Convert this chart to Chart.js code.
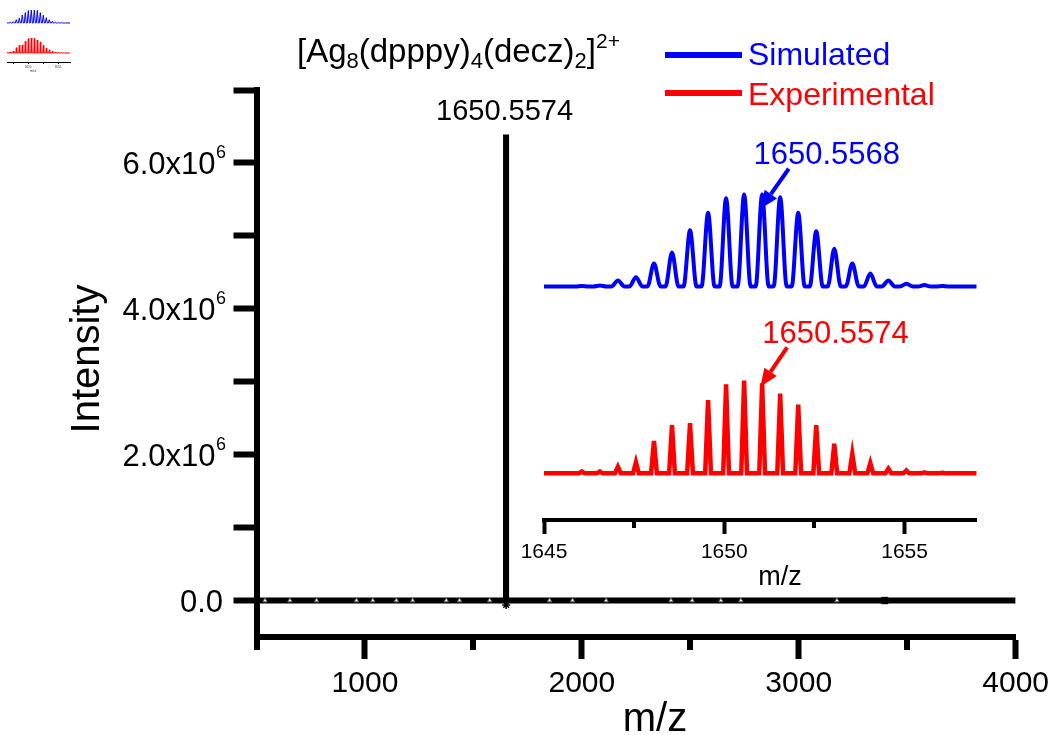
<!DOCTYPE html>
<html>
<head>
<meta charset="utf-8">
<title>ESI-MS spectrum</title>
<script src="https://cdn.jsdelivr.net/npm/chart.js@4.4.1/dist/chart.umd.min.js"></script>
<style>
  html, body { margin: 0; padding: 0; background: #fff; }
  #wrap { position: relative; width: 1056px; height: 735px; overflow: hidden; }
  #wrap canvas { position: absolute; }
  #main-chart { left: 0; top: 0; }
  #inset-chart { left: 500px; top: 100px; }
  #thumb-chart { left: 0; top: 0; }
</style>
</head>
<body>
<div id="wrap">
  <canvas id="main-chart" width="1056" height="735"></canvas>
  <canvas id="inset-chart" width="500" height="500"></canvas>
  <canvas id="thumb-chart" width="80" height="75"></canvas>
</div>
<script>
// ---- data ----

// full spectrum (m/z, intensity)
const mainMz = [500, 1650.3, 1650.5574, 1650.8, 4000];
const mainIntensity = [0, 0, 6.39e6, 0, 0];

// small peak-pick markers sitting on the baseline
const markerMz = [539, 654, 777, 961, 1036, 1145, 1220, 1375, 1436, 1575,
  1851, 1957, 2112, 2411, 2509, 2641, 2733, 3176];
const starMz = [1651];
const squareMz = [3397];

// main axis ticks
const mainXTicks = [1000, 2000, 3000, 4000];
const mainXMinor = [500, 1500, 2500, 3500];
const mainYTicks = [0, 1e6, 2e6, 3e6, 4e6, 5e6, 6e6, 7e6];
const yTickValues = [0, 2e6, 4e6, 6e6];
const yTickLabels = ["0.0", "2.0x10", "4.0x10", "6.0x10"];
const yTickExp = ["", "6", "6", "6"];

// inset isotope pattern (m/z on inset axis, relative intensity %)
const isotopeMz = [1646.05, 1646.55, 1647.05, 1647.55, 1648.05, 1648.55, 1649.05,
  1649.55, 1650.05, 1650.55, 1651.05, 1651.55, 1652.05, 1652.55, 1653.05, 1653.55,
  1654.05, 1654.55, 1655.05, 1655.55, 1656.05];
const simulated = [0.5, 1, 6.5, 10, 25, 37, 61, 80, 96, 100, 100, 97, 80, 60,
  41, 25, 14, 6.5, 3, 1.5, 0.5];
const experimental = [2, 2, 7, 12, 35, 52, 54, 79, 96, 100, 97, 86, 74, 52,
  32, 21, 11, 5, 3, 1, 0.5];
const labelledPeak = 10;
const insetXTicks = [1645, 1650, 1655];
const insetXMinor = [1647.5, 1652.5];
const thumbXTicks = [1647.5, 1650, 1652.5, 1655];

const FONT = "'Liberation Sans', Arial, sans-serif";
const BLUE = "#0000ff";
const RED = "#ff0000";

// turn stick values into a drawable profile
function profile(mz, ints, halfWidth, lo, hi) {
  const pts = [{ x: lo, y: 0 }];
  mz.forEach((m, i) => {
    pts.push({ x: m - halfWidth, y: 0 }, { x: m, y: ints[i] }, { x: m + halfWidth, y: 0 });
  });
  pts.push({ x: hi, y: 0 });
  return pts;
}

function fixedTicks(values) {
  return (scale) => {
    scale.ticks = values.map((v) => ({ value: v }));
  };
}

function drawArrow(ctx, x1, y1, x2, y2, color) {
  const ang = Math.atan2(y2 - y1, x2 - x1);
  const head = 18, half = 7.5;
  const bx = x2 - head * Math.cos(ang), by = y2 - head * Math.sin(ang);
  ctx.strokeStyle = color;
  ctx.fillStyle = color;
  ctx.lineWidth = 4;
  ctx.beginPath();
  ctx.moveTo(x1, y1);
  ctx.lineTo(bx, by);
  ctx.stroke();
  ctx.beginPath();
  ctx.moveTo(x2, y2);
  ctx.lineTo(bx + half * Math.sin(ang), by - half * Math.cos(ang));
  ctx.lineTo(bx - half * Math.sin(ang), by + half * Math.cos(ang));
  ctx.closePath();
  ctx.fill();
}

// ---- main chart ----

const mainDecor = {
  id: "mainDecor",
  afterDraw(chart) {
    const { ctx, chartArea, scales: { x, y } } = chart;
    ctx.save();

    // minor ticks on x
    ctx.strokeStyle = "#000";
    ctx.lineWidth = 6;
    mainXMinor.forEach((v) => {
      const px = Math.round(x.getPixelForValue(v));
      ctx.beginPath();
      ctx.moveTo(px, chartArea.bottom);
      ctx.lineTo(px, chartArea.bottom + 13);
      ctx.stroke();
    });

    // y tick labels with superscript
    ctx.fillStyle = "#000";
    ctx.textBaseline = "alphabetic";
    ctx.textAlign = "right";
    yTickValues.forEach((v, i) => {
      const py = y.getPixelForValue(v);
      let right = 226;
      if (yTickExp[i]) {
        ctx.font = "18px " + FONT;
        ctx.fillText(yTickExp[i], right, py - 4.5);
        right -= ctx.measureText(yTickExp[i]).width + 0.5;
      } else {
        right = 223;
      }
      ctx.font = "31px " + FONT;
      ctx.fillText(yTickLabels[i], right, py + 11);
    });

    // axis titles
    ctx.textAlign = "center";
    ctx.font = "40px " + FONT;
    ctx.fillText("m/z", 655, 731);
    ctx.save();
    ctx.translate(99, 359);
    ctx.rotate(-Math.PI / 2);
    ctx.fillText("Intensity", 0, 0);
    ctx.restore();

    // formula title
    const parts = [
      ["[Ag", 33, 0], ["8", 22, 6.6], ["(dpppy)", 33, 0], ["4", 22, 6.6],
      ["(decz)", 33, 0], ["2", 22, 6.6], ["]", 33, 0], ["2+", 21, -13.4],
    ];
    ctx.textAlign = "left";
    let tx = 297;
    parts.forEach(([t, size, dy]) => {
      ctx.font = size + "px " + FONT;
      ctx.fillText(t, tx, 61.7 + dy);
      tx += ctx.measureText(t).width;
    });

    // main peak label
    ctx.textAlign = "center";
    ctx.font = "29px " + FONT;
    ctx.fillText("1650.5574", x.getPixelForValue(mainMz[2]) - 1.5, 120);

    // legend
    [["Simulated", BLUE, 55, 65], ["Experimental", RED, 93, 105]].forEach(([t, c, ly, by]) => {
      ctx.strokeStyle = c;
      ctx.lineWidth = 6;
      ctx.beginPath();
      ctx.moveTo(665, ly);
      ctx.lineTo(742, ly);
      ctx.stroke();
      ctx.fillStyle = c;
      ctx.textAlign = "left";
      ctx.font = "32px " + FONT;
      ctx.fillText(t, 748, by);
    });
    ctx.restore();
  },
};

new Chart(document.getElementById("main-chart"), {
  type: "line",
  data: {
    datasets: [
      {
        data: mainMz.map((m, i) => ({ x: m, y: mainIntensity[i] })),
        borderColor: "#000",
        borderWidth: 6,
        borderJoinStyle: "bevel",
        pointRadius: 0,
        tension: 0,
        order: 3,
      },
      {
        type: "scatter",
        data: markerMz.map((m) => ({ x: m, y: 0 })),
        pointStyle: "triangle",
        pointRadius: 2.5,
        backgroundColor: "#fff",
        borderColor: "#666",
        borderWidth: 1,
        order: 1,
      },
      {
        type: "scatter",
        data: starMz.map((m) => ({ x: m, y: -0.06e6 })),
        pointStyle: "star",
        pointRadius: 4,
        borderColor: "#000",
        borderWidth: 1.5,
        order: 1,
      },
      {
        type: "scatter",
        data: squareMz.map((m) => ({ x: m, y: 0 })),
        pointStyle: "rect",
        pointRadius: 4.5,
        backgroundColor: "#000",
        borderColor: "#000",
        order: 1,
      },
    ],
  },
  options: {
    responsive: false,
    animation: false,
    events: [],
    layout: { padding: { top: 90, right: 39, left: 0, bottom: 0 } },
    plugins: { legend: { display: false }, tooltip: { enabled: false } },
    scales: {
      x: {
        type: "linear",
        min: 500,
        max: 4000,
        border: { display: true, color: "#000", width: 6 },
        grid: { drawOnChartArea: false, drawTicks: true, tickLength: 22, tickWidth: 6, tickColor: "#000" },
        afterBuildTicks: fixedTicks(mainXTicks),
        ticks: {
          maxRotation: 0,
          autoSkip: false,
          color: "#000",
          padding: 7,
          font: { family: FONT, size: 30 },
          callback: (v) => String(v),
        },
        afterFit: (s) => { s.height = 98; },
      },
      y: {
        type: "linear",
        min: -0.5e6,
        max: 7e6,
        border: { display: true, color: "#000", width: 6 },
        grid: { drawOnChartArea: false, drawTicks: true, tickLength: 23, tickWidth: 6, tickColor: "#000" },
        afterBuildTicks: fixedTicks(mainYTicks),
        ticks: { display: false },
        afterFit: (s) => { s.width = 256.5; },
      },
    },
  },
  plugins: [mainDecor],
});

// ---- inset ----

const insetDecor = {
  id: "insetDecor",
  afterDraw(chart) {
    const { ctx, chartArea, scales: { x, yB, yR } } = chart;
    ctx.save();
    ctx.strokeStyle = "#000";
    ctx.lineWidth = 4;
    insetXMinor.forEach((v) => {
      const px = Math.round(x.getPixelForValue(v));
      ctx.beginPath();
      ctx.moveTo(px, chartArea.bottom);
      ctx.lineTo(px, chartArea.bottom + 8);
      ctx.stroke();
    });

    ctx.fillStyle = "#000";
    ctx.textAlign = "center";
    ctx.textBaseline = "alphabetic";
    ctx.font = "27px " + FONT;
    ctx.fillText("m/z", 280, 485);

    const px = x.getPixelForValue(isotopeMz[labelledPeak]);
    const pb = yB.getPixelForValue(simulated[labelledPeak]);
    const pr = yR.getPixelForValue(experimental[labelledPeak]);

    drawArrow(ctx, px + 26.6, pb - 25.7, px - 1.7, pb + 14.3, BLUE);
    ctx.fillStyle = BLUE;
    ctx.font = "31px " + FONT;
    ctx.fillText("1650.5568", px + 64.6, pb - 30.5);

    drawArrow(ctx, px + 25, pr - 36, px - 1.7, pr + 3.4, RED);
    ctx.fillStyle = RED;
    ctx.fillText("1650.5574", px + 73.3, pr - 40.8);
    ctx.restore();
  },
};

new Chart(document.getElementById("inset-chart"), {
  type: "line",
  data: {
    datasets: [
      {
        data: profile(isotopeMz, simulated, 0.18, 1645, 1657),
        yAxisID: "yB",
        borderColor: BLUE,
        borderWidth: 4,
        pointRadius: 0,
        cubicInterpolationMode: "monotone",
      },
      {
        data: profile(isotopeMz, experimental, 0.08, 1645, 1657),
        yAxisID: "yR",
        borderColor: RED,
        borderWidth: 4.5,
        pointRadius: 0,
        tension: 0,
      },
    ],
  },
  options: {
    responsive: false,
    animation: false,
    events: [],
    layout: { padding: { top: 10, right: 23.3, left: 44, bottom: 0 } },
    plugins: { legend: { display: false }, tooltip: { enabled: false } },
    scales: {
      x: {
        type: "linear",
        min: 1645,
        max: 1657,
        border: { display: true, color: "#000", width: 4 },
        grid: { drawOnChartArea: false, drawTicks: true, tickLength: 14, tickWidth: 4, tickColor: "#000" },
        afterBuildTicks: fixedTicks(insetXTicks),
        ticks: {
          maxRotation: 0,
          autoSkip: false,
          color: "#000",
          padding: 6,
          font: { family: FONT, size: 21 },
          callback: (v) => String(v),
        },
        afterFit: (s) => { s.height = 80; },
      },
      yB: { type: "linear", display: false, min: -253.8, max: 191.8 },
      yR: { type: "linear", display: false, min: -50.4, max: 391.9 },
    },
  },
  plugins: [insetDecor],
});

// ---- tiny thumbnail in the corner ----

const thumbDecor = {
  id: "thumbDecor",
  afterDraw(chart) {
    const { ctx } = chart;
    ctx.save();
    ctx.fillStyle = "#333";
    ctx.textAlign = "center";
    ctx.font = "4px " + FONT;
    ctx.fillText("m/z", 33, 72);
    ctx.restore();
  },
};

new Chart(document.getElementById("thumb-chart"), {
  type: "line",
  data: {
    datasets: [
      {
        data: profile(isotopeMz, simulated, 0.17, 1645, 1657),
        yAxisID: "yB",
        borderColor: BLUE,
        borderWidth: 1,
        pointRadius: 0,
        tension: 0,
      },
      {
        data: profile(isotopeMz, experimental, 0.08, 1645, 1657),
        yAxisID: "yR",
        borderColor: RED,
        borderWidth: 1,
        pointRadius: 0,
        tension: 0,
      },
    ],
  },
  options: {
    responsive: false,
    animation: false,
    events: [],
    layout: { padding: { top: 0, right: 10, left: 7, bottom: 0 } },
    plugins: { legend: { display: false }, tooltip: { enabled: false } },
    scales: {
      x: {
        type: "linear",
        min: 1646.5,
        max: 1657,
        border: { display: true, color: "#000", width: 1 },
        grid: { drawOnChartArea: false, drawTicks: true, tickLength: 2, tickWidth: 1, tickColor: "#000" },
        afterBuildTicks: fixedTicks(thumbXTicks),
        ticks: {
          maxRotation: 0,
          autoSkip: false,
          color: "#333",
          padding: 1,
          font: { family: FONT, size: 3 },
          callback: (v) => (v % 5 === 0 ? String(v) : ""),
        },
        afterFit: (s) => { s.height = 13; },
      },
      yB: { type: "linear", display: false, min: -300, max: 176.9 },
      yR: { type: "linear", display: false, min: -60, max: 353.3 },
    },
  },
  plugins: [thumbDecor],
});
</script>
</body>
</html>
